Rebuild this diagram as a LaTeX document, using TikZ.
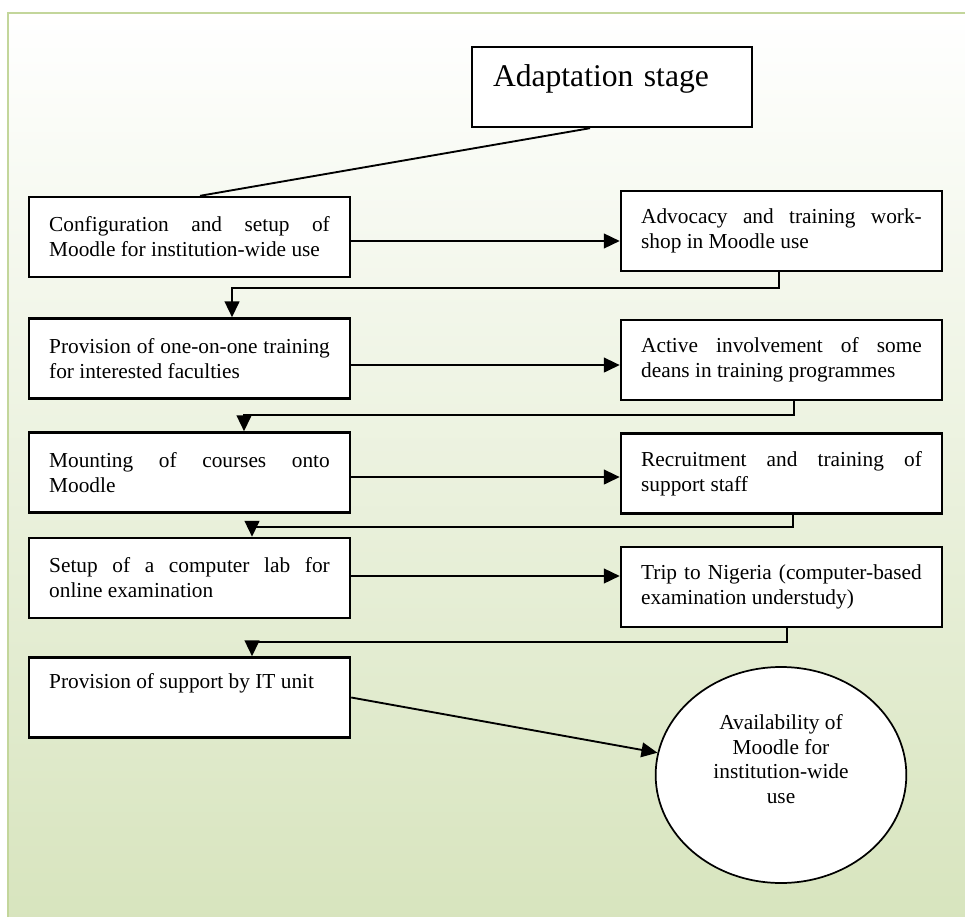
\documentclass[tikz,border=0pt]{standalone}
\usepackage{fontspec}
\setmainfont{Liberation Serif}
\usetikzlibrary{arrows.meta,shapes.geometric}
\definecolor{framegreen}{HTML}{C3D69B}
\definecolor{midgreen}{HTML}{E7EEDA}
\definecolor{fillgreen}{HTML}{D7E4BD}
\newcommand\boxfont{\fontsize{16}{18.75}\selectfont\adjdemerits=0\relax\linepenalty=2000\relax\hyphenpenalty=10000\relax\exhyphenpenalty=10000\relax\tolerance=10000\relax}

\begin{document}
\begin{tikzpicture}[x=0.75pt,y=-0.75pt,
	box/.style={rectangle, draw, line width=1.8pt, fill=white, text width=210.5pt, inner xsep=15.15pt, minimum height=60pt, align=justify, font=\boxfont},
	flow/.style={line width=1.8pt, -{Triangle[length=12pt,width=11pt]}}]
	\clip (0,0) rectangle (965,917);
	\useasboundingbox (0,0) rectangle (965,917);
	% backdrop
	\shade[top color=white, middle color=midgreen, bottom color=fillgreen] (8,13) rectangle (975,930);
	\draw[framegreen, line width=2pt] (8,930) -- (8,13) -- (975,13);

	\node (Stage) at (612, 87)	[rectangle, draw, line width=1.8pt, fill=white, text width=178.5pt, inner xsep=15.75pt, minimum height=60pt, text height=16pt, text depth=16pt, align=left, font=\fontsize{23.7}{28}\selectfont]	{Adaptation stage};

	\node (Config)    at (189.5, 237)	[box]	{Configuration and setup of\linebreak Moodle for institution-wide use};
	\node (ProvTrain) at (189.5, 358.5)	[box]	{Provision of one-on-one training\linebreak for interested faculties};
	\node (Mount)     at (189.5, 472.5)	[box]	{Mounting of courses onto\linebreak Moodle};
	\node (Setup)     at (189.5, 578)	[box]	{Setup of a computer lab for\linebreak online examination};
	\node (Support)   at (189.5, 697.5)	[box]	{Provision of support by IT unit\\ \strut};

	\node (Advocacy)  at (781.5, 231)	[box]	{Advocacy and training work-\linebreak shop in Moodle use};
	\node (Active)    at (781.5, 360)	[box]	{Active involvement of some\linebreak deans in training programmes};
	\node (Recruit)   at (781.5, 473.5)	[box]	{Recruitment and training of\linebreak support staff};
	\node (Trip)      at (781.5, 587)	[box]	{Trip to Nigeria (computer-based\linebreak examination understudy)};

	\node (Avail) at (781, 775)	[ellipse, draw, line width=1.3pt, fill=white, minimum width=188pt, minimum height=162pt, inner sep=1pt, align=center, font=\fontsize{16}{18.5}\selectfont]	{Availability of\\Moodle for\\institution-wide\\use\\ \strut};

	\draw[line width=1.4pt] ([xshift=-16.5pt]Stage.south) -- ([xshift=7.9pt]Config.north);

	\draw[flow] ([yshift=-3pt]Config.east) -- ([yshift=-3pt]Config.east -| Advocacy.west);
	\draw[flow] ([yshift=-4.9pt]ProvTrain.east) -- ([yshift=-4.9pt]ProvTrain.east -| Active.west);
	\draw[flow] ([yshift=-3.4pt]Mount.east) -- ([yshift=-3.4pt]Mount.east -| Recruit.west);
	\draw[flow] ([yshift=1.5pt]Setup.east) -- ([yshift=1.5pt]Setup.east -| Trip.west);

	\draw[flow] ([xshift=-1.9pt]Advocacy.south) -- ++(0,16) -| ([xshift=31.9pt]ProvTrain.north);
	\draw[flow] ([xshift=9.4pt]Active.south) -- ++(0,14) -| ([xshift=40.9pt]Mount.north);
	\draw[flow] ([xshift=8.6pt]Recruit.south) -- ++(0,12) -| ([xshift=46.9pt]Setup.north);
	\draw[flow] ([xshift=4.1pt]Trip.south) -- ++(0,14) -| ([xshift=46.9pt]Support.north);

	\draw[flow, line width=1.4pt] (Support.east) -- (Avail);
\end{tikzpicture}
\end{document}
